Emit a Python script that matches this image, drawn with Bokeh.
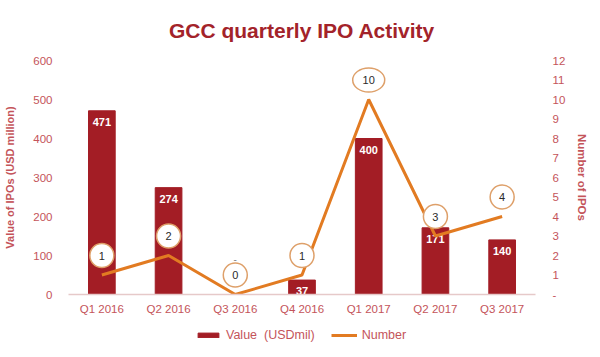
from bokeh.plotting import figure
from bokeh.models import (ColumnDataSource, FactorRange, Range1d, LinearAxis,
                          FixedTicker, Legend, LegendItem)
from bokeh.layouts import column
from bokeh.core.properties import value
from bokeh.embed import file_html
from bokeh.resources import INLINE

# ---- data ----
quarters = ["Q1 2016", "Q2 2016", "Q3 2016", "Q4 2016", "Q1 2017", "Q2 2017", "Q3 2017"]
ipo_value = [471, 274, 0, 37, 400, 171, 140]      # USD million
ipo_number = [1, 2, 0, 1, 10, 3, 4]               # count
left_ticks = [0, 100, 200, 300, 400, 500, 600]
right_ticks = list(range(0, 13))

BAR = "#a31d25"
LINE = "#e27b22"
TXT = "#c4545a"
FONT = "Liberation Sans"

p = figure(width=600, height=320, x_range=FactorRange(*quarters, range_padding=0),
           y_range=Range1d(0, 600), output_backend="svg", toolbar_location=None,
           min_border_left=68, min_border_right=65, min_border_top=60, min_border_bottom=26)
p.extra_y_ranges = {"num": Range1d(0, 12)}
p.outline_line_color = None
p.xgrid.grid_line_color = None
p.ygrid.grid_line_color = None
p.background_fill_color = "white"
p.border_fill_color = "white"

p.title.text = "GCC quarterly IPO Activity"
p.title.align = "center"
p.title.vertical_align = "top"
p.title.text_font = FONT
p.title.text_font_size = "21px"
p.title.text_font_style = "bold"
p.title.text_color = "#a3232a"
p.title.standoff = 33

# bars
bar_src = ColumnDataSource(dict(
    q=quarters, v=ipo_value,
    lab=[str(v) if v > 0 else "" for v in ipo_value]))
p.vbar(x="q", top="v", width=0.4, source=bar_src, fill_color=BAR, line_color=BAR)
p.text(x="q", y="v", text="lab", source=bar_src, text_color="white",
       text_font=value(FONT), text_font_size="11px", text_font_style="bold",
       text_align="center", text_baseline="top", y_offset=7)
zero_src = ColumnDataSource(dict(
    q=[q for q, v in zip(quarters, ipo_value) if v == 0],
    v=[v for v in ipo_value if v == 0]))
p.text(x="q", y="v", text=value("-"), source=zero_src, text_color="#888888",
       text_font=value(FONT), text_font_size="10px", text_align="center",
       text_baseline="bottom", y_offset=-32)

# line
line_src = ColumnDataSource(dict(
    q=quarters, n=ipo_number,
    ny=[n + 1.0 for n in ipo_number],
    lab=[str(n) for n in ipo_number],
    w=[24 + 8 * (len(str(n)) - 1) for n in ipo_number]))
p.line(x="q", y="n", source=line_src, line_color=LINE, line_width=3,
       y_range_name="num")
p.ellipse(x="q", y="ny", width="w", height=24, width_units="screen",
          height_units="screen", source=line_src, fill_color="white",
          line_color="#dea06a", line_width=1.5, y_range_name="num")
p.text(x="q", y="ny", text="lab", source=line_src, text_color="#2a2a2a",
       text_font=value(FONT), text_font_size="11px", text_align="center",
       text_baseline="middle", y_range_name="num")

# axes
xa = p.xaxis[0]
xa.axis_line_color = "#e6c9c9"
xa.axis_line_width = 1.5
xa.major_tick_line_color = None
xa.minor_tick_line_color = None
xa.major_label_text_color = TXT
xa.major_label_text_font = FONT
xa.major_label_text_font_size = "11.5px"
xa.major_label_standoff = 2

ya = p.yaxis[0]
ya.ticker = FixedTicker(ticks=left_ticks)
ya.axis_line_color = None
ya.major_tick_line_color = None
ya.minor_tick_line_color = None
ya.major_label_text_color = TXT
ya.major_label_text_font = FONT
ya.major_label_text_font_size = "11.5px"
ya.major_label_standoff = 10
ya.axis_label = "Value of IPOs (USD million)"
ya.axis_label_text_color = TXT
ya.axis_label_text_font = FONT
ya.axis_label_text_font_size = "11px"
ya.axis_label_text_font_style = "bold"
ya.axis_label_standoff = 14

ra = LinearAxis(y_range_name="num", ticker=FixedTicker(ticks=right_ticks))
ra.major_label_overrides = {0: "-"}
ra.axis_line_color = None
ra.major_tick_line_color = None
ra.minor_tick_line_color = None
ra.major_label_text_color = TXT
ra.major_label_text_font = FONT
ra.major_label_text_font_size = "11.5px"
ra.major_label_standoff = 11
ra.axis_label = "Number of IPOs"
ra.axis_label_text_color = TXT
ra.axis_label_text_font = FONT
ra.axis_label_text_font_size = "11.5px"
ra.axis_label_text_font_style = "bold"
ra.axis_label_standoff = 8
p.add_layout(ra, "right")

# legend strip below the chart (its frame is aligned with the chart's frame)
lg = figure(width=600, height=37, output_backend="svg", toolbar_location=None,
            x_range=Range1d(0, 1), y_range=Range1d(0, 1),
            x_axis_location=None, y_axis_location=None,
            min_border_left=0, min_border_right=0, min_border_top=0, min_border_bottom=0)
lg.outline_line_color = None
lg.xgrid.grid_line_color = None
lg.ygrid.grid_line_color = None
lg.border_fill_color = "white"
proxy = ColumnDataSource(dict(x=[-10, -9], y=[-10, -9]))
r_bar = lg.vbar(x="x", top="y", width=0.5, source=proxy, fill_color=BAR, line_color=BAR)
r_line = lg.line(x="x", y="y", source=proxy, line_color=LINE, line_width=3)
legend = Legend(items=[LegendItem(label="Value  (USDmil)", renderers=[r_bar]),
                       LegendItem(label="Number", renderers=[r_line])],
                orientation="horizontal", location=(127, 15),
                border_line_color=None, background_fill_alpha=0,
                label_text_color=TXT, label_text_font=FONT,
                label_text_font_size="12.5px", glyph_height=6, glyph_width=26,
                spacing=16, padding=2, margin=0, label_standoff=5)
lg.add_layout(legend, "center")

open("out.html", "w").write(file_html(column(p, lg, spacing=0), INLINE))
